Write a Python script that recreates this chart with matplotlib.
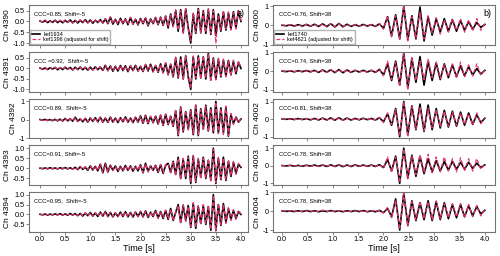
import numpy as np
import matplotlib.pyplot as plt
from matplotlib.ticker import FormatStrFormatter

plt.rcParams['font.family'] = ['Liberation Sans', 'DejaVu Sans']

# sample times of the traced peaks (left column ~0.05 s, right column ~0.08 s)
t_a = np.linspace(0, 4, 81)
t_b = np.linspace(0, 4, 51)

# ---- column a) : kef1934 (black) vs kef1396 (pink) ----
ch4390_ref = [0.02, -0.03, 0.04, -0.05, 0.03, -0.04, 0.06, -0.05, 0.04, -0.06, 0.05, -0.04, 0.07, -0.06, 0.05, -0.07,
              0.06, -0.05, 0.08, -0.06, 0.07, -0.08, 0.06, -0.05, 0.09, -0.07,
              0.12, -0.1, 0.2, -0.12, 0.1, -0.14, 0.15, -0.1, 0.12, -0.15, 0.18, -0.12, 0.1, -0.16, 0.14, -0.1,
              0.16, -0.2, 0.12, -0.1, 0.18, -0.15, 0.2, -0.18,
              0.25, -0.3, 0.35, -0.2, 0.5, -0.45, 0.55, -0.5, 0.58, -0.3, -1.0, 0.35, -0.55, 0.6, -0.5, 0.5,
              -0.55, 0.55, -0.6, 0.55, -0.65, 0.35, -0.45, 0.45, -0.4, 0.4, -0.35, 0.45, -0.3, 0.5, 0.0]
ch4390_adj = [0.03, -0.02, 0.08, -0.04, 0.02, -0.06, 0.05, -0.03, 0.06, -0.05, 0.07, -0.03, 0.05, -0.08, 0.06, -0.05,
              0.08, -0.06, 0.06, -0.07, 0.09, -0.06, 0.05, -0.07, 0.1, -0.06,
              0.14, -0.08, 0.22, -0.1, 0.12, -0.12, 0.13, -0.12, 0.15, -0.13, 0.2, -0.1, 0.12, -0.14, 0.16, -0.12,
              0.18, -0.17, 0.14, -0.12, 0.2, -0.13, 0.22, -0.16,
              0.28, -0.25, 0.3, -0.25, 0.55, -0.4, 0.5, -0.55, 0.6, -0.35, -0.9, 0.4, -0.5, 0.55, -0.55, 0.45,
              -0.5, 0.6, -0.55, 0.5, -1.0, 0.3, -0.4, 0.5, -0.35, 0.45, -0.4, 0.4, -0.35, 0.55, 0.02]

ch4391_ref = [0.02, -0.04, 0.03, -0.05, 0.04, -0.03, 0.05, -0.06, 0.04, -0.05, 0.06, -0.04, 0.05, -0.07, 0.06, -0.05,
              0.07, -0.06, 0.05, -0.08, 0.06, -0.07, 0.08, -0.06, 0.07, -0.09,
              0.15, -0.1, 0.12, -0.13, 0.1, -0.12, 0.14, -0.1, 0.13, -0.15, 0.12, -0.1, 0.15, -0.12, 0.1, -0.14,
              0.18, -0.12, 0.2, -0.15, 0.14, -0.18, 0.22, -0.2,
              0.25, -0.3, 0.2, -0.4, 0.5, -0.45, 0.55, -0.5, 0.6, -0.4, -1.0, 0.55, -0.5, 0.6, -0.45, 0.55,
              -0.5, 0.72, -0.55, 0.5, -0.5, 0.45, -0.4, 0.4, -0.35, 0.38, -0.3, 0.35, -0.25, 0.3, 0.0]
ch4391_adj = [0.03, -0.03, 0.05, -0.04, 0.03, -0.05, 0.06, -0.05, 0.05, -0.04, 0.08, -0.05, 0.04, -0.06, 0.07, -0.06,
              0.06, -0.05, 0.07, -0.07, 0.05, -0.08, 0.07, -0.05, 0.09, -0.08,
              0.16, -0.12, 0.1, -0.12, 0.12, -0.1, 0.15, -0.12, 0.12, -0.14, 0.14, -0.11, 0.13, -0.14, 0.12, -0.12,
              0.2, -0.1, 0.18, -0.17, 0.15, -0.16, 0.2, -0.22,
              0.28, -0.28, 0.22, -0.38, 0.55, -0.4, 0.5, -0.55, 0.62, -0.35, -0.95, 0.6, -0.45, 0.55, -0.5, 0.6,
              -0.45, 0.7, -0.6, 0.45, -0.55, 0.5, -0.35, 0.45, -0.4, 0.35, -0.35, 0.4, -0.2, 0.35, 0.02]

ch4392_ref = [0.02, -0.02, 0.03, -0.03, 0.02, -0.04, 0.03, -0.05, 0.04, -0.06, 0.08, -0.05, 0.06, -0.07, 0.15, -0.08,
              0.06, -0.1, 0.08, -0.12, 0.1, -0.08, 0.12, -0.1, 0.14, -0.12,
              0.1, -0.13, 0.15, -0.12, 0.1, -0.14, 0.12, -0.1, 0.16, -0.12, 0.1, -0.15, 0.14, -0.12, 0.22, -0.18,
              0.25, -0.2, 0.18, -0.15, 0.2, -0.22, 0.25, -0.3,
              0.3, -0.25, 0.2, -0.35, 0.5, -0.85, 0.7, -0.65, 0.45, -0.5, 0.55, -0.8, 0.8, -0.85, 0.6, -0.5,
              0.8, -0.6, 0.65, -0.7, 1.0, -0.7, 0.65, -0.7, 0.7, -0.88, 0.3, -0.2, 0.15, -0.12, 0.05]
ch4392_adj = [0.03, -0.03, 0.02, -0.04, 0.04, -0.03, 0.05, -0.04, 0.05, -0.05, 0.07, -0.07, 0.05, -0.06, 0.12, -0.1,
              0.08, -0.08, 0.1, -0.1, 0.12, -0.1, 0.1, -0.12, 0.15, -0.1,
              0.12, -0.12, 0.13, -0.14, 0.12, -0.12, 0.14, -0.12, 0.14, -0.14, 0.12, -0.13, 0.16, -0.1, 0.2, -0.2,
              0.22, -0.22, 0.2, -0.13, 0.22, -0.2, 0.28, -0.28,
              0.32, -0.22, 0.22, -0.38, 0.55, -0.8, 0.72, -0.6, 0.5, -0.55, 0.5, -0.75, 0.85, -0.8, 0.55, -0.55,
              0.75, -0.65, 0.6, -0.65, 0.95, -0.75, 0.6, -0.8, 0.75, -0.85, 0.35, -0.25, 0.2, -0.15, 0.08]

ch4393_ref = [0.01, -0.02, 0.02, -0.02, 0.03, -0.02, 0.02, -0.03, 0.03, -0.02, 0.04, -0.03, 0.03, -0.04, 0.05, -0.06,
              0.08, -0.05, 0.06, -0.1, 0.12, -0.08, 0.1, -0.12, 0.2, -0.22,
              0.25, -0.18, 0.15, -0.1, 0.12, -0.15, 0.1, -0.12, 0.14, -0.1, 0.12, -0.14, 0.1, -0.12, 0.18, -0.22,
              0.25, -0.15, 0.12, -0.1, 0.15, -0.2, 0.18, -0.25,
              0.15, 0.25, -0.2, 0.35, -0.3, 0.55, -0.5, 0.45, -0.5, 0.6, -0.75, 0.6, -0.7, 0.45, -0.45, 0.55,
              -0.5, 0.4, -0.6, 1.0, -0.75, 0.5, -0.55, 0.55, -0.6, 0.35, -0.4, 0.3, -0.25, 0.2, 0.05]
ch4393_adj = [0.02, -0.01, 0.03, -0.03, 0.02, -0.03, 0.03, -0.02, 0.02, -0.03, 0.05, -0.02, 0.04, -0.05, 0.06, -0.05,
              0.1, -0.06, 0.08, -0.08, 0.14, -0.1, 0.12, -0.1, 0.22, -0.2,
              0.22, -0.2, 0.17, -0.12, 0.1, -0.13, 0.12, -0.14, 0.12, -0.12, 0.14, -0.12, 0.12, -0.1, 0.2, -0.2,
              0.22, -0.18, 0.14, -0.12, 0.18, -0.18, 0.2, -0.22,
              0.18, 0.22, -0.22, 0.32, -0.35, 0.5, -0.55, 0.5, -0.45, 0.55, -0.7, 0.65, -0.65, 0.5, -0.5, 0.5,
              -0.45, 0.45, -0.65, 0.95, -0.7, 0.55, -0.5, 0.5, -0.55, 0.4, -0.35, 0.35, -0.3, 0.25, 0.08]

ch4394_ref = [0.01, -0.02, 0.02, -0.03, 0.02, -0.02, 0.03, -0.02, 0.04, -0.03, 0.03, -0.04, 0.05, -0.03, 0.04, -0.06,
              0.05, -0.08, 0.07, -0.06, 0.1, -0.08, 0.08, -0.1, 0.12, -0.08,
              0.15, -0.1, 0.1, -0.12, 0.08, -0.1, 0.12, -0.1, 0.14, -0.12, 0.1, -0.13, 0.12, -0.1, 0.15, -0.12,
              0.18, -0.15, 0.12, -0.1, 0.2, -0.18, 0.15, -0.2,
              0.2, -0.25, 0.3, -0.3, 0.1, 0.5, -0.4, 0.45, -0.3, 0.45, -0.65, 0.55, -0.7, 0.4, -0.45, 0.45,
              -0.5, 0.4, -0.8, 1.0, -0.8, 0.5, -0.55, 0.55, -0.4, 0.3, -0.25, 0.2, -0.2, 0.15, 0.0]
ch4394_adj = [0.02, -0.01, 0.03, -0.02, 0.03, -0.03, 0.02, -0.03, 0.03, -0.04, 0.04, -0.03, 0.04, -0.04, 0.05, -0.05,
              0.06, -0.07, 0.08, -0.07, 0.09, -0.09, 0.1, -0.08, 0.13, -0.1,
              0.13, -0.12, 0.12, -0.1, 0.1, -0.12, 0.1, -0.12, 0.12, -0.13, 0.12, -0.12, 0.1, -0.12, 0.17, -0.1,
              0.16, -0.17, 0.14, -0.12, 0.18, -0.2, 0.17, -0.18,
              0.22, -0.22, 0.28, -0.32, 0.12, 0.45, -0.45, 0.5, -0.35, 0.4, -0.6, 0.6, -0.65, 0.45, -0.5, 0.5,
              -0.45, 0.45, -0.75, 0.95, -0.85, 0.55, -0.5, 0.5, -0.45, 0.35, -0.3, 0.25, -0.25, 0.2, 0.02]

# ---- column b) : kef1740 (black) vs kef4621 (pink) ----
ch4000_ref = [0.01, -0.02, 0.03, -0.03, 0.04, -0.03, 0.05, -0.04, 0.06, -0.05, 0.08, -0.06, 0.09, -0.08, 0.1, -0.07,
              0.06, -0.05, 0.04, -0.04, 0.05, -0.03, 0.04, -0.05, 0.08,
              -0.15, 0.45, -0.55, 0.55, -0.7, 1.0, -0.75, 0.5, -0.7, 0.95, -0.8, 0.45, -0.5, 0.35, -0.35, 0.35,
              -0.3, 0.3, -0.3, 0.25, -0.25, 0.2, -0.2, 0.15, -0.1, 0.05]
ch4000_adj = [0.02, -0.01, 0.04, -0.04, 0.03, -0.05, 0.06, -0.03, 0.05, -0.07, 0.07, -0.08, 0.1, -0.06, 0.08, -0.08,
              0.05, -0.06, 0.05, -0.03, 0.04, -0.05, 0.05, -0.04, 0.1,
              -0.2, 0.5, -0.6, 0.5, -0.75, 1.05, -0.8, 0.45, -0.65, 0.7, -0.7, 0.5, -0.4, 0.4, -0.45, 0.3,
              -0.35, 0.35, -0.25, 0.35, -0.35, 0.3, -0.3, 0.35, -0.25, 0.1]

ch4001_ref = [0.01, -0.02, 0.02, -0.03, 0.03, -0.02, 0.04, -0.03, 0.05, -0.06, 0.07, -0.05, 0.08, -0.07, 0.09, -0.08,
              0.07, -0.06, 0.05, -0.04, 0.05, -0.04, 0.05, -0.06, 0.1,
              -0.2, 0.4, -0.5, 0.55, -0.75, 1.0, -0.9, 0.7, -0.6, 0.8, -0.75, 0.55, -0.5, 0.45, -0.45, 0.4,
              -0.35, 0.35, -0.3, 0.3, -0.25, 0.25, -0.2, 0.15, -0.15, 0.05]
ch4001_adj = [0.02, -0.01, 0.03, -0.02, 0.04, -0.04, 0.03, -0.04, 0.06, -0.05, 0.06, -0.07, 0.09, -0.06, 0.1, -0.07,
              0.08, -0.05, 0.06, -0.05, 0.04, -0.05, 0.06, -0.05, 0.12,
              -0.25, 0.55, -0.45, 0.5, -0.8, 1.0, -1.0, 0.75, -0.5, 0.55, -0.45, 0.65, -0.35, 0.5, -0.4, 0.35,
              -0.3, 0.4, -0.35, 0.5, -0.3, 0.35, -0.25, 0.4, -0.2, 0.05]

ch4002_ref = [0.01, -0.01, 0.02, -0.02, 0.03, -0.02, 0.03, -0.04, 0.04, -0.05, 0.06, -0.05, 0.07, -0.06, 0.08, -0.06,
              0.06, -0.05, 0.04, -0.04, 0.05, -0.03, 0.04, -0.05, 0.08,
              -0.15, 0.3, -0.35, 0.6, -1.0, 1.0, -0.9, 0.75, -0.6, 0.85, -0.7, 0.8, -0.6, 0.6, -0.5, 0.5,
              -0.45, 0.45, -0.4, 0.4, -0.35, 0.35, -0.3, 0.25, -0.2, 0.05]
ch4002_adj = [0.02, -0.02, 0.01, -0.03, 0.02, -0.03, 0.04, -0.03, 0.05, -0.04, 0.05, -0.06, 0.06, -0.07, 0.07, -0.07,
              0.05, -0.06, 0.05, -0.03, 0.04, -0.04, 0.05, -0.04, 0.1,
              -0.2, 0.35, -0.3, 0.55, -0.95, 1.0, -1.0, 0.7, -0.55, 0.7, -0.65, 0.6, -0.5, 0.55, -0.45, 0.45,
              -0.4, 0.4, -0.35, 0.35, -0.3, 0.3, -0.35, 0.35, -0.25, 0.1]

ch4003_ref = [0.01, -0.01, 0.02, -0.02, 0.02, -0.03, 0.03, -0.02, 0.04, -0.03, 0.04, -0.04, 0.05, -0.04, 0.05, -0.05,
              0.04, -0.04, 0.05, -0.03, 0.04, -0.03, 0.04, -0.04, 0.06,
              -0.1, 0.35, -0.3, 0.55, -1.0, 1.0, -0.7, 0.6, -0.6, 0.55, -0.45, 0.4, -0.35, 0.3, -0.3, 0.25,
              -0.25, 0.25, -0.2, 0.2, -0.2, 0.2, -0.15, 0.15, -0.1, 0.05]
ch4003_adj = [0.02, -0.02, 0.03, -0.01, 0.03, -0.02, 0.02, -0.04, 0.03, -0.04, 0.05, -0.03, 0.04, -0.05, 0.06, -0.04,
              0.05, -0.05, 0.04, -0.04, 0.05, -0.04, 0.03, -0.05, 0.08,
              -0.15, 0.5, -0.35, 0.5, -0.95, 0.95, -0.75, 0.55, -0.5, 0.6, -0.4, 0.65, -0.4, 0.5, -0.35, 0.5,
              -0.3, 0.4, -0.35, 0.45, -0.3, 0.4, -0.3, 0.4, -0.2, 0.1]

ch4004_ref = [0.01, -0.01, 0.01, -0.02, 0.02, -0.02, 0.03, -0.02, 0.02, -0.03, 0.02, -0.02, 0.03, -0.02, 0.02, -0.03,
              0.02, -0.02, 0.03, -0.02, 0.03, -0.03, 0.02, -0.03, 0.04,
              -0.08, 0.15, -0.3, 0.65, -1.0, 0.95, -0.75, 0.55, -0.5, 0.45, -0.45, 0.55, -0.5, 0.5, -0.45, 0.45,
              -0.4, 0.35, -0.35, 0.35, -0.3, 0.3, -0.25, 0.25, -0.15, 0.05]
ch4004_adj = [0.02, -0.01, 0.02, -0.01, 0.03, -0.03, 0.02, -0.04, 0.05, -0.04, 0.06, -0.03, 0.04, -0.03, 0.03, -0.02,
              0.03, -0.03, 0.02, -0.03, 0.02, -0.02, 0.03, -0.02, 0.05,
              -0.1, 0.2, -0.35, 0.6, -0.95, 0.95, -0.8, 0.5, -0.45, 0.5, -0.4, 0.5, -0.45, 0.55, -0.4, 0.4,
              -0.35, 0.4, -0.3, 0.4, -0.35, 0.35, -0.3, 0.3, -0.25, 0.1]

channels_a = ['Ch 4390', 'Ch 4391', 'Ch 4392', 'Ch 4393', 'Ch 4394']
channels_b = ['Ch 4000', 'Ch 4001', 'Ch 4002', 'Ch 4003', 'Ch 4004']
labels_a = ['CCC=0.85, Shift=-5', 'CCC =0.92,  Shift=-5', 'CCC=0.89,  Shift=-5',
            'CCC=0.91, Shift=-5', 'CCC=0.95,  Shift=-5']
labels_b = ['CCC=0.76, Shift=38', 'CCC=0.74, Shift=38', 'CCC=0.81, Shift=38',
            'CCC=0.78, Shift=38', 'CCC=0.78, Shift=38']
refs_a = [ch4390_ref, ch4391_ref, ch4392_ref, ch4393_ref, ch4394_ref]
adjs_a = [ch4390_adj, ch4391_adj, ch4392_adj, ch4393_adj, ch4394_adj]
refs_b = [ch4000_ref, ch4001_ref, ch4002_ref, ch4003_ref, ch4004_ref]
adjs_b = [ch4000_adj, ch4001_adj, ch4002_adj, ch4003_adj, ch4004_adj]
legend_a = ['kef1934', 'kef1396 (adjusted for shift)']
legend_b = ['kef1740', 'kef4621 (adjusted for shift)']
time_ticks = [0.0, 0.5, 1.0, 1.5, 2.0, 2.5, 3.0, 3.5, 4.0]

ylims_a = [(-1.08, 0.76), (-1.1, 0.79), (-0.9, 1.15), (-0.83, 1.13), (-0.88, 1.12)]
yticks_a = [[-1.0, -0.5, 0.0, 0.5], [-1.0, -0.5, 0.0, 0.5], [-1, 0, 1],
            [-0.5, 0.0, 0.5, 1.0], [-0.5, 0.0, 0.5, 1.0]]
ylims_b = [(-0.85, 1.05), (-1.1, 1.05), (-1.09, 1.16), (-1.1, 1.15), (-1.1, 0.99)]

pink = '#e8336e'
grey = '0.45'

fig = plt.figure(figsize=(5, 2.56), dpi=100)
gs_a = fig.add_gridspec(5, 1, left=0.058, right=0.496, top=0.98, bottom=0.094, hspace=0.18)
gs_b = fig.add_gridspec(5, 1, left=0.546, right=0.99, top=0.98, bottom=0.094, hspace=0.18)


def draw_column(gs, t, refs, adjs, channels, labels, legend, ylims, yticks, fmt, xlim, tag):
    for i in range(5):
        ax = fig.add_subplot(gs[i, 0])
        ax.plot(t, refs[i], color='black', lw=1.2, label=legend[0])
        ax.plot(t, adjs[i], color=pink, lw=0.9, ls=(0, (3, 1.6)), label=legend[1])
        ax.set_xlim(*xlim)
        ax.set_ylim(*ylims[i])
        ax.set_yticks(yticks[i])
        ax.yaxis.set_major_formatter(FormatStrFormatter(fmt[i]))
        ax.set_xticks(time_ticks)
        ax.set_ylabel(channels[i], fontsize=6, labelpad=1)
        ax.tick_params(labelsize=5.2, length=2, width=0.6, color=grey, pad=1)
        for s in ax.spines.values():
            s.set_color(grey)
            s.set_linewidth(0.8)
        ax.text(0.025, 0.78, labels[i], transform=ax.transAxes, fontsize=4.2, va='center')
        if i < 4:
            ax.tick_params(labelbottom=False)
        else:
            ax.xaxis.set_major_formatter(FormatStrFormatter('%.1f'))
            ax.set_xlabel('Time [s]', fontsize=6.5, labelpad=1)
        if i == 0:
            ax.legend(loc='lower left', fontsize=4, handlelength=1.6, borderpad=0.3,
                      labelspacing=0.1, borderaxespad=0.15, fancybox=False,
                      edgecolor='0.7', framealpha=1, handletextpad=0.5)
            ax.text(0.985, 0.8, tag, transform=ax.transAxes, fontsize=6.5, ha='right', va='center')


draw_column(gs_a, t_a, refs_a, adjs_a, channels_a, labels_a, legend_a, ylims_a, yticks_a,
            ['%.1f', '%.1f', '%d', '%.1f', '%.1f'], (-0.22, 4.14), 'a)')
draw_column(gs_b, t_b, refs_b, adjs_b, channels_b, labels_b, legend_b, ylims_b, [[-1, 0, 1]] * 5,
            ['%d'] * 5, (-0.18, 4.2), 'b)')

fig.savefig('out.png', dpi=100)
